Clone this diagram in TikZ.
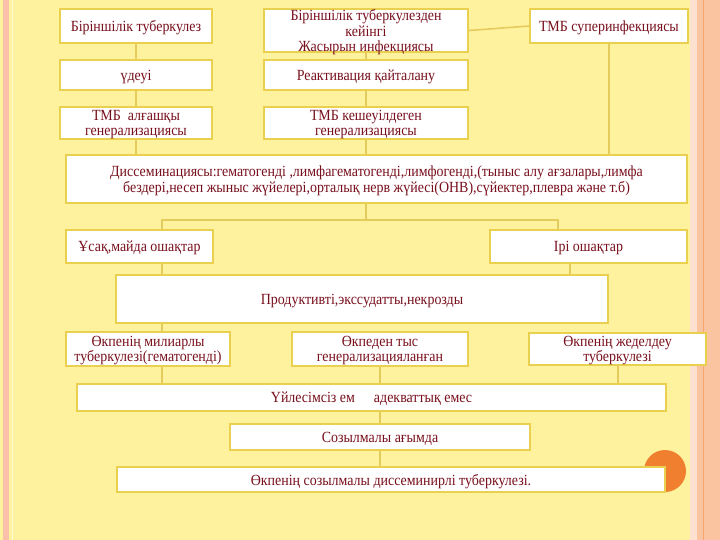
\documentclass[tikz,border=0pt]{standalone}
\usepackage{fontspec}
\setmainfont{Liberation Serif}[FakeStretch=0.9]
\definecolor{bgyellow}{RGB}{255,242,158}
\definecolor{boxgold}{RGB}{233,208,78}
\definecolor{linkgold}{RGB}{228,203,92}
\definecolor{txtred}{RGB}{120,15,28}
\definecolor{edgepink}{RGB}{250,192,170}
\definecolor{edgesalmon}{RGB}{250,196,160}
\definecolor{dotorange}{RGB}{240,128,48}
\usetikzlibrary{positioning}

\tikzset{
  box/.style={draw=boxgold, fill=white, line width=2pt, text=txtred,
    font=\fontsize{15.5}{15.5}\selectfont, align=center, inner sep=0pt, text depth=0pt},
  link/.style={draw=linkgold, line width=1.6pt}
}

\begin{document}
\begin{tikzpicture}[x=1pt, y=-1pt]
  % Slide background
  \fill[bgyellow] (0,0) rectangle (720,540);
  \useasboundingbox (0,0) rectangle (720,540);
  \fill[edgepink] (3,0) rectangle (9,540);
  \draw[white!60!bgyellow, line width=1pt] (12,0) -- (12,540);
  \fill[white!50!edgesalmon] (690,0) rectangle (697,540);
  \fill[edgesalmon] (697,0) rectangle (720,540);
  \draw[dotorange!70, line width=1pt] (703,0) -- (703,540);

  % Orange dot, behind the last box
  \fill[dotorange] (665,471) circle (21pt);

  % First stages
  \node[box, minimum width=152pt, minimum height=34pt] (prim) at (136,26) {Біріншілік туберкулез};
  \node[box, minimum width=204pt, minimum height=43pt] (latent) at (366,30.5) {Біріншілік туберкулезден\\кейінгі\\Жасырын инфекциясы};
  \node[box, minimum width=158pt, minimum height=34pt] (super) at (609,26) {ТМБ суперинфекциясы};
  \node[box, minimum width=152pt, minimum height=30pt] (progr) at (136,75) {үдеуі};
  \node[box, minimum width=204pt, minimum height=30pt] (react) at (366,75) {Реактивация қайталану};
  \node[box, minimum width=152pt, minimum height=32pt] (earlygen) at (136,123) {ТМБ~ алғашқы\\генерализациясы};
  \node[box, minimum width=204pt, minimum height=32pt] (lategen) at (366,123) {ТМБ кешеуілдеген\\генерализациясы};

  % Dissemination
  \node[box, minimum width=621pt, minimum height=48pt] (dissem) at (376.5,179) {Диссеминациясы:гематогенді ,лимфагематогенді,лимфогенді,(тыныс алу ағзалары,лимфа\\бездері,несеп жыныс жүйелері,орталық нерв жүйесі(ОНВ),сүйектер,плевра және т.б)};

  % Foci and forms
  \node[box, minimum width=147pt, minimum height=33pt] (small) at (139.5,246.5) {Ұсақ,майда ошақтар};
  \node[box, minimum width=197pt, minimum height=33pt] (large) at (588.5,246.5) {Ірі ошақтар};
  \node[box, minimum width=492pt, minimum height=48pt] (prod) at (362,299) {Продуктивті,экссудатты,некрозды};
  \node[box, minimum width=164pt, minimum height=34pt] (miliary) at (148,349) {Өкпенің милиарлы\\туберкулезі(гематогенді)};
  \node[box, minimum width=176pt, minimum height=34pt] (extra) at (380,349) {Өкпеден тыс\\генерализацияланған};
  \node[box, minimum width=177pt, minimum height=32pt] (acute) at (617.5,349) {Өкпенің жеделдеу\\туберкулезі};

  % Outcome
  \node[box, minimum width=589pt, minimum height=27pt] (therapy) at (371.5,397.5) {Үйлесімсіз ем \quad адекваттық емес};
  \node[box, minimum width=300pt, minimum height=26pt] (chronic) at (380,437) {Созылмалы ағымда};
  \node[box, minimum width=548pt, minimum height=25pt] (final) at (391,479.5) {Өкпенің созылмалы диссеминирлі туберкулезі.};

  % Connector positions
  \coordinate (fork) at (366,220);
  \coordinate (leftx) at (162,0);
  \coordinate (rightx) at (558,0);
  \coordinate (largex) at (570,0);
  \coordinate (acutex) at (618,0);

  % Connectors
  \draw[link] (prim) -- (progr);
  \draw[link] (progr) -- (earlygen);
  \draw[link] (earlygen.south) -- (earlygen.south |- dissem.north);
  \draw[link] (latent) -- (react);
  \draw[link] (react) -- (lategen);
  \draw[link] (lategen.south) -- (lategen.south |- dissem.north);
  \draw[link] (latent.east) -- (super.west);
  \draw[link] (super.south) -- (super.south |- dissem.north);
  \draw[link] (dissem.south -| fork) -- (fork);
  \draw[link] (small.north -| leftx) |- (fork) -| (large.north -| rightx);
  \draw[link] (small.south -| leftx) -- (prod.north -| leftx);
  \draw[link] (large.south -| largex) -- (prod.north -| largex);
  \draw[link] (prod.south -| leftx) -- (miliary.north -| leftx);
  \draw[link] (miliary.south -| leftx) -- (therapy.north -| leftx);
  \draw[link] (extra.south) -- (therapy.north -| extra.south);
  \draw[link] (acute.south -| acutex) -- (therapy.north -| acutex);
  \draw[link] (therapy.south -| chronic.north) -- (chronic.north);
  \draw[link] (chronic) -- (final.north -| chronic);
\end{tikzpicture}
\end{document}
